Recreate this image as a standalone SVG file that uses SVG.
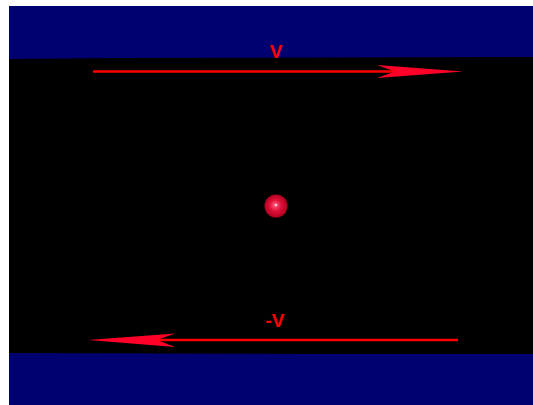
<svg xmlns="http://www.w3.org/2000/svg" width="533" height="405" viewBox="0 0 533 405">
<defs>
<radialGradient id="ball" cx="0.5" cy="0.5" r="0.5" fx="0.45" fy="0.45">
<stop offset="0" stop-color="#ff6080"/>
<stop offset="0.5" stop-color="#e0103a"/>
<stop offset="1" stop-color="#b00020"/>
</radialGradient>
</defs>
<style>
.lbl{font-family:"Liberation Sans",Arial,sans-serif;font-weight:bold;font-size:19px;fill:#ff0000;text-anchor:middle}
.shaft{stroke:#ff0000;stroke-width:2.5;fill:none}
.head{fill:#ff0028}
</style>
<rect width="533" height="405" fill="#ffffff"/>
<g id="plate-top"><rect x="9" y="6" width="524" height="54" fill="#000070"/></g>
<g id="plate-bottom"><rect x="9" y="350" width="524" height="55" fill="#000070"/></g>
<g id="field"><polygon points="9,59 120,58 533,57 533,354 300,354 9,353" fill="#000000"/></g>
<g id="connectors">
<line class="shaft" x1="93" y1="71.5" x2="400" y2="71.5"/>
<polygon class="head" points="463,71.5 377,65 395,71.5 377,78"/>
<line class="shaft" x1="458" y1="340" x2="150" y2="340"/>
<polygon class="head" points="88,340 175,333.5 157,340 175,347"/>
</g>
<g id="label-v"><text class="lbl" x="276" y="58">V</text></g>
<g id="label-negv"><text class="lbl" x="275" y="327">-V</text></g>
<g id="charge"><circle cx="276" cy="206" r="11.5" fill="url(#ball)"/><circle cx="276" cy="205" r="1.3" fill="#ffd0d8"/></g>
</svg>
